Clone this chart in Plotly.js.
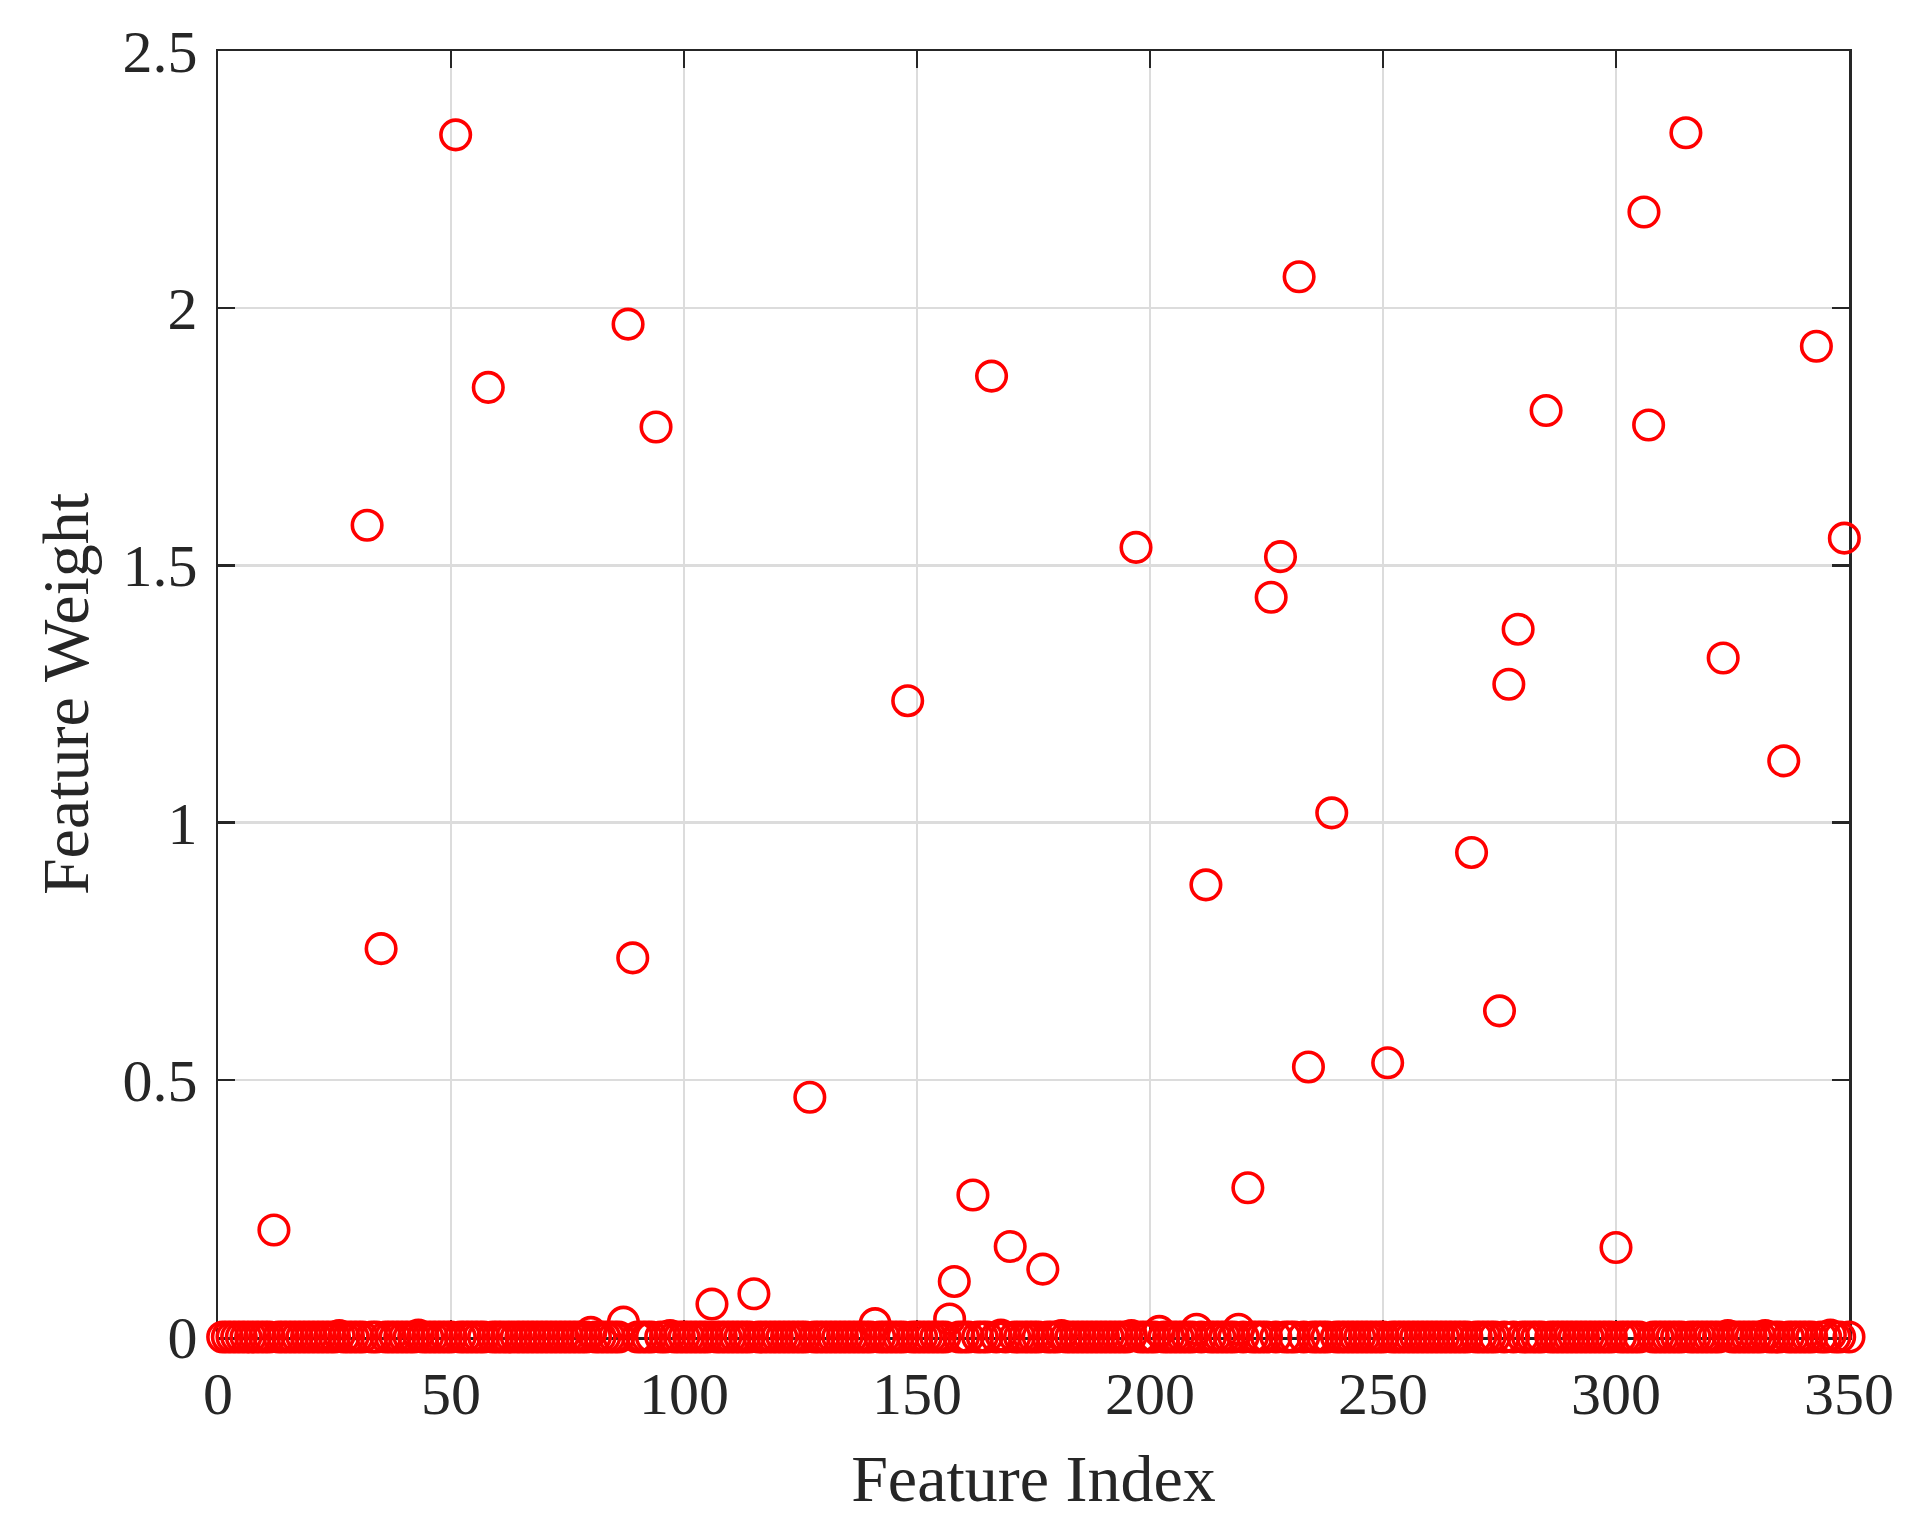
<!DOCTYPE html>
<html>
<head>
<meta charset="utf-8">
<script src="https://cdn.plot.ly/plotly-3.0.1.min.js"></script>
<style>html,body{margin:0;padding:0;background:#fff;}#chart{width:1922px;height:1535px;}</style>
</head>
<body>
<div id="chart"></div>
<script>
// Number of features (x runs 1..featureCount); all weights are zero except those listed below
const featureCount = 350;
// Features with a visible non-zero weight
const nonzeroIndex  = [12, 26, 32, 35, 43, 51, 58, 80, 87, 88, 89, 94, 97, 106, 115, 127, 141, 148, 157, 158,
                       162, 166, 168, 170, 177, 181, 196, 197, 202, 210, 212, 219, 221, 226, 228, 232, 234, 239,
                       251, 269, 275, 277, 279, 285, 300, 306, 307, 315, 323, 324, 332, 336, 343, 346, 349];
const nonzeroWeight = [0.208, 0.003, 1.578, 0.755, 0.004, 2.337, 1.846, 0.009, 0.029, 1.969, 0.737, 1.769, 0.003, 0.064, 0.084, 0.466, 0.026, 1.237, 0.035, 0.108,
                       0.276, 1.868, 0.004, 0.176, 0.132, 0.003, 0.003, 1.535, 0.011, 0.015, 0.879, 0.015, 0.290, 1.438, 1.517, 2.061, 0.525, 1.019,
                       0.533, 0.942, 0.634, 1.269, 1.376, 1.801, 0.174, 2.187, 1.773, 2.341, 1.320, 0.003, 0.003, 1.120, 1.926, 0.004, 1.553];
const xTickVals = [0, 50, 100, 150, 200, 250, 300, 350];
const yTickVals = [0, 0.5, 1, 1.5, 2, 2.5];

const featureIdx = [];
const featureW = [];
for (let i = 1; i <= featureCount; i++) {
  featureIdx.push(i);
  const k = nonzeroIndex.indexOf(i);
  featureW.push(k >= 0 ? nonzeroWeight[k] : 0);
}

const axisColor = '#262626';
const fontFam = '"Liberation Serif", "Times New Roman", Times, serif';

const trace = {
  type: 'scatter',
  mode: 'markers',
  x: featureIdx,
  y: featureW,
  cliponaxis: false,
  marker: {symbol: 'circle-open', size: 29.5, color: '#ff0000', line: {color: '#ff0000', width: 3.6}},
  showlegend: false,
  hoverinfo: 'x+y'
};

const axisCommon = {
  showline: true, linecolor: axisColor, linewidth: 2.5, mirror: 'ticks',
  ticks: 'inside', ticklen: 17, tickwidth: 2.5, tickcolor: axisColor,
  showgrid: true, gridcolor: '#dcdcdc', gridwidth: 2.5,
  zeroline: false, automargin: false, layer: 'below traces',
  tickfont: {family: fontFam, size: 60, color: axisColor}
};

const layout = {
  width: 1922, height: 1535,
  margin: {l: 218, r: 73, t: 51, b: 198},
  paper_bgcolor: '#ffffff', plot_bgcolor: '#ffffff',
  font: {family: fontFam, color: axisColor},
  xaxis: Object.assign({}, axisCommon, {
    range: [0, 350], tickmode: 'array', tickvals: xTickVals, ticktext: xTickVals.map(String),
    ticklabelstandoff: 2,
    title: {text: 'Feature Index', font: {family: fontFam, size: 66, color: axisColor}, standoff: 30}
  }),
  yaxis: Object.assign({}, axisCommon, {
    range: [0, 2.5], tickmode: 'array', tickvals: yTickVals, ticktext: yTickVals.map(String),
    ticklabelstandoff: 6,
    title: {text: 'Feature Weight', font: {family: fontFam, size: 66, color: axisColor}, standoff: 13}
  })
};

Plotly.newPlot('chart', [trace], layout, {displayModeBar: false, staticPlot: true});
</script>
</body>
</html>
